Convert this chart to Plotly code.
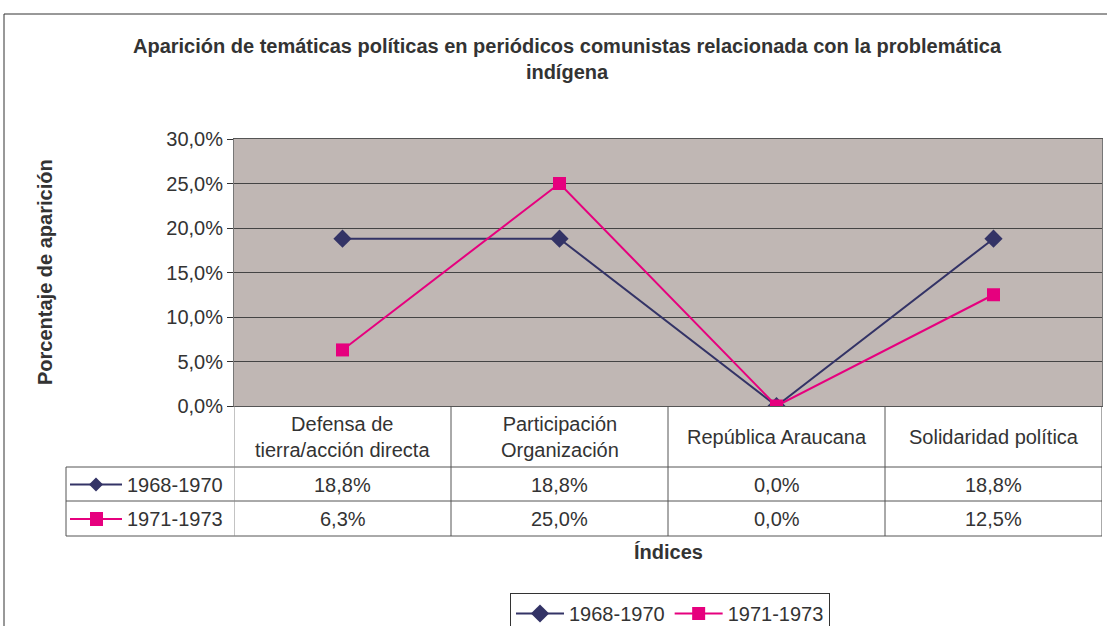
import plotly.graph_objects as go

# data
categorias = ["Defensa de<br>tierra/acción directa", "Participación<br>Organización",
              "República Araucana", "Solidaridad política"]
series = ["1968-1970", "1971-1973"]
valores_1968 = [0.188, 0.188, 0.0, 0.188]
valores_1971 = [0.063, 0.25, 0.0, 0.125]
y_ticks = [0, 0.05, 0.10, 0.15, 0.20, 0.25, 0.30]

colores = ["#333366", "#E6007E"]
simbolos = ["diamond", "square"]
datos = [valores_1968, valores_1971]

FONT = "Liberation Sans, Arial, sans-serif"
TXT = "#333333"
FS = 20

fig = go.Figure()
xpos = list(range(len(categorias)))
for nombre, vals, col, sym in zip(series, datos, colores, simbolos):
    fig.add_trace(go.Scatter(
        x=xpos, y=vals, name=nombre, mode="lines+markers",
        line=dict(color=col, width=2),
        marker=dict(symbol=sym, size=14 if sym == "diamond" else 13, color=col),
    ))

# pixel helpers (plot area: x 234..1102, y 139..406)
def py(pix):
    return (406 - pix) / 267

def px_(pix):
    return (pix - 234) / 868

shapes = []
annotations = []

# outer chart border
shapes.append(dict(type="rect", xref="paper", yref="paper",
                   x0=px_(4), x1=px_(1120), y0=py(640), y1=py(14),
                   line=dict(color="#333333", width=1), layer="below"))

# data table grid
line_c = "#555555"
row_lines = [406, 467, 501, 536]
for r in row_lines[1:]:
    shapes.append(dict(type="line", xref="paper", yref="paper",
                       x0=px_(66), x1=1, y0=py(r), y1=py(r),
                       line=dict(color=line_c, width=1)))
shapes.append(dict(type="line", xref="paper", yref="paper",
                   x0=px_(66), x1=px_(66), y0=py(467), y1=py(536),
                   line=dict(color=line_c, width=1)))
for i in range(len(categorias) + 1):
    shapes.append(dict(type="line", xref="x", yref="paper",
                       x0=i - 0.5, x1=i - 0.5, y0=py(406), y1=py(536),
                       line=dict(color="#888888" if i == 0 else line_c, width=1)))

# header labels
for i, c in enumerate(categorias):
    annotations.append(dict(x=i, y=py(436.5), xref="x", yref="paper", text=c,
                            xanchor="center", yanchor="middle",
                            showarrow=False, font=dict(size=FS, color=TXT, family=FONT)))

# table values
def fmt(v):
    return f"{v*100:.1f}%".replace(".", ",")

for j, (nombre, vals, col, sym) in enumerate(zip(series, datos, colores, simbolos)):
    yc = py([484.5, 519][j])
    for i, v in enumerate(vals):
        annotations.append(dict(x=i, y=yc, xref="x", yref="paper", text=fmt(v),
                                xanchor="center", yanchor="middle",
                                showarrow=False, font=dict(size=FS, color=TXT, family=FONT)))
    # legend key in table
    shapes.append(dict(type="line", xref="paper", yref="paper",
                       x0=px_(70), x1=px_(122), y0=yc, y1=yc,
                       line=dict(color=col, width=2)))
    if sym == "diamond":
        path = (f"M {px_(96)},{yc + 7/267} L {px_(103)},{yc} "
                f"L {px_(96)},{yc - 7/267} L {px_(89)},{yc} Z")
    else:
        path = (f"M {px_(90)},{yc + 7/267} L {px_(103)},{yc + 7/267} "
                f"L {px_(103)},{yc - 7/267} L {px_(90)},{yc - 7/267} Z")
    shapes.append(dict(type="path", xref="paper", yref="paper", path=path,
                       fillcolor=col, line=dict(color=col, width=0)))
    annotations.append(dict(x=px_(125), y=yc, xref="paper", yref="paper", text=nombre,
                            xanchor="left", yanchor="middle", showarrow=False,
                            font=dict(size=FS, color=TXT, family=FONT)))

# axis titles
annotations.append(dict(x=px_(668), y=py(552), xref="paper", yref="paper",
                        text="<b>Índices</b>", showarrow=False,
                        xanchor="center", yanchor="middle",
                        font=dict(size=FS, color=TXT, family=FONT)))
annotations.append(dict(x=px_(45), y=py(272), xref="paper", yref="paper",
                        text="<b>Porcentaje de aparición</b>", textangle=-90,
                        xanchor="center", yanchor="middle",
                        showarrow=False, font=dict(size=FS, color=TXT, family=FONT)))

fig.update_layout(
    width=1107, height=626,
    margin=dict(l=234, r=5, t=139, b=220),
    paper_bgcolor="white",
    plot_bgcolor="#C0B7B4",
    separators=",.",
    font=dict(family=FONT, color=TXT, size=FS),
    title=dict(
        text="<b>Aparición de temáticas políticas en periódicos comunistas relacionada con la problemática<br>indígena</b>",
        x=567 / 1107, xanchor="center", y=1 - 53 / 626, yanchor="middle",
        font=dict(size=FS, color=TXT, family=FONT),
    ),
    xaxis=dict(range=[-0.5, 3.5], showticklabels=False, showgrid=False,
               zeroline=False, showline=True, linecolor="#555555", mirror=True,
               fixedrange=True),
    yaxis=dict(range=[0, 0.30], tickvals=y_ticks, tickformat=".1%",
               showgrid=True, gridcolor="#444444", gridwidth=1,
               zeroline=False, showline=True, linecolor="#777777", mirror=True,
               ticks="outside", ticklen=6, tickcolor="#333333",
               tickfont=dict(size=FS, color=TXT, family=FONT)),
    showlegend=True,
    legend=dict(orientation="h", xref="container", yref="container",
                x=670 / 1107, xanchor="center",
                y=(626 - 593) / 626, yanchor="top",
                bordercolor="#333333", borderwidth=1, bgcolor="white",
                font=dict(size=FS, color=TXT, family=FONT),
                itemwidth=48, tracegroupgap=0),
    shapes=shapes,
    annotations=annotations,
)

fig.write_html("out.html", config={"displayModeBar": False},
               post_script="document.body.style.margin='0';")
